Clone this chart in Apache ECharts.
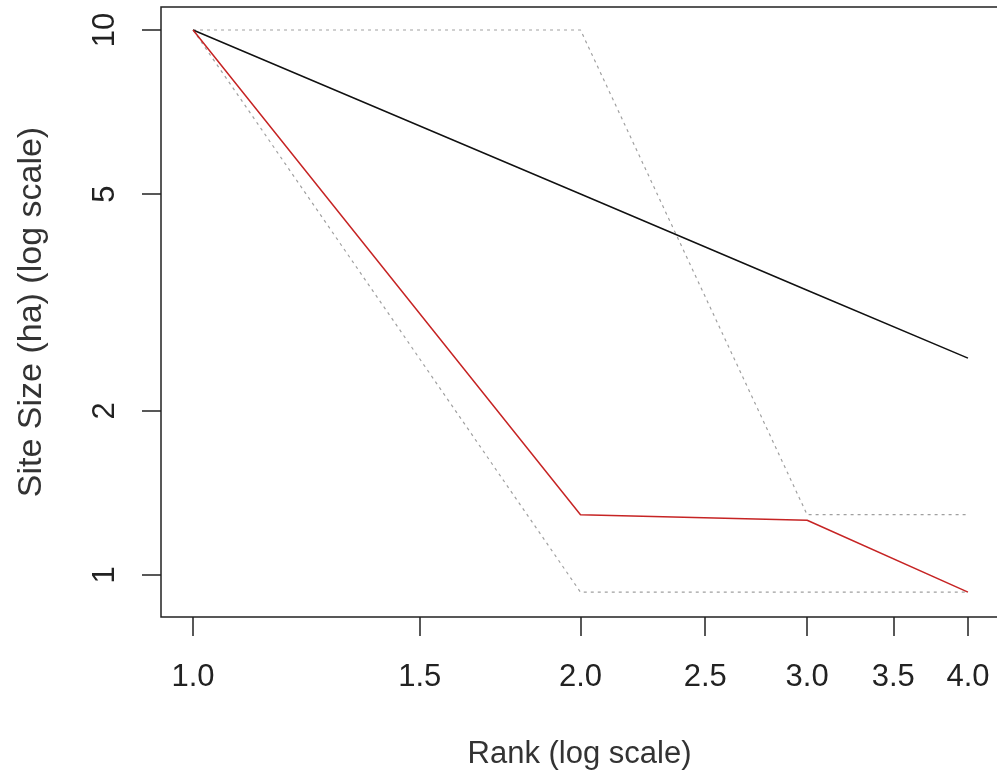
<!DOCTYPE html>
<html lang="en">
<head>
    <meta charset="UTF-8">
    <title>Rank-size plot</title>
    <script src="https://cdn.jsdelivr.net/npm/echarts@6.0.0/dist/echarts.min.js"></script>
    <style>
        html, body { margin: 0; padding: 0; background: #fff; }
        #main { width: 997px; height: 776px; }
    </style>
</head>
<body>
<div id="main"></div>
<script type="text/javascript">
    // values (both axes are log scale)
    var rank = [1, 2, 3, 4];
    var zipfSize = [10, 5, 3.33, 2.5];          // black line
    var observedSize = [10, 1.29, 1.26, 0.93];  // red line
    var upperBound = [10, 10, 1.29, 1.29];      // grey dotted
    var lowerBound = [10, 0.93, 0.93, 0.93];    // grey dotted

    var xTicks = [1.0, 1.5, 2.0, 2.5, 3.0, 3.5, 4.0];
    var xTickLabels = ['1.0', '1.5', '2.0', '2.5', '3.0', '3.5', '4.0'];
    var yTicks = [1, 2, 5, 10];
    var yTickLabels = ['1', '2', '5', '10'];

    function lg(v) { return Math.log10(v); }

    function toPoints(ys) {
        var pts = [];
        for (var i = 0; i < rank.length; i++) {
            pts.push([lg(rank[i]), lg(ys[i])]);
        }
        return pts;
    }

    // label lookup, keyed on the log value
    function labelFor(ticks, labels, v) {
        for (var i = 0; i < ticks.length; i++) {
            if (Math.abs(lg(ticks[i]) - v) < 1e-6) return labels[i];
        }
        return '';
    }

    var font = 'Liberation Sans, Arial, sans-serif';
    var chart = echarts.init(document.getElementById('main'), null, {renderer: 'canvas'});

    chart.setOption({
        animation: false,
        grid: {
            left: 161,
            top: 7,
            width: 837,
            height: 610,
            outerBoundsMode: 'none',
            containLabel: false,
            show: true,
            borderColor: '#222',
            borderWidth: 1.5,
            backgroundColor: 'transparent'
        },
        xAxis: {
            type: 'value',
            min: -0.0249,
            max: 0.6254,
            name: 'Rank (log scale)',
            nameLocation: 'middle',
            nameGap: 122,
            nameTextStyle: {fontFamily: font, fontSize: 31, color: '#333'},
            axisLine: {show: false, onZero: false},
            splitLine: {show: false},
            axisTick: {
                show: true,
                length: 19,
                lineStyle: {color: '#222', width: 1.5},
                customValues: xTicks.map(lg)
            },
            axisLabel: {
                fontFamily: font,
                fontSize: 31,
                lineHeight: 30,
                color: '#222',
                margin: 45,
                customValues: xTicks.map(lg),
                formatter: function (v) { return labelFor(xTicks, xTickLabels, v); }
            }
        },
        yAxis: {
            type: 'value',
            min: -0.0771,
            max: 1.0422,
            name: 'Site Size (ha) (log scale)',
            nameLocation: 'middle',
            nameGap: 112,
            nameRotate: 90,
            nameTextStyle: {fontFamily: font, fontSize: 34, color: '#333'},
            axisLine: {show: false, onZero: false},
            splitLine: {show: false},
            axisTick: {
                show: true,
                length: 19,
                lineStyle: {color: '#222', width: 1.5},
                customValues: yTicks.map(lg)
            },
            axisLabel: {
                fontFamily: font,
                fontSize: 31,
                lineHeight: 30,
                color: '#222',
                margin: 41,
                rotate: 90,
                customValues: yTicks.map(lg),
                formatter: function (v) { return labelFor(yTicks, yTickLabels, v); }
            }
        },
        series: [
            {
                name: 'upper',
                type: 'line',
                data: toPoints(upperBound),
                symbol: 'none',
                lineStyle: {color: '#a0a0a0', width: 1.2, type: [3, 4]},
                z: 1
            },
            {
                name: 'lower',
                type: 'line',
                data: toPoints(lowerBound),
                symbol: 'none',
                lineStyle: {color: '#a0a0a0', width: 1.2, type: [3, 4]},
                z: 1
            },
            {
                name: 'zipf',
                type: 'line',
                data: toPoints(zipfSize),
                symbol: 'none',
                lineStyle: {color: '#111', width: 1.5},
                z: 2
            },
            {
                name: 'observed',
                type: 'line',
                data: toPoints(observedSize),
                symbol: 'none',
                lineStyle: {color: '#c62424', width: 1.5},
                z: 3
            }
        ]
    });
</script>
</body>
</html>
